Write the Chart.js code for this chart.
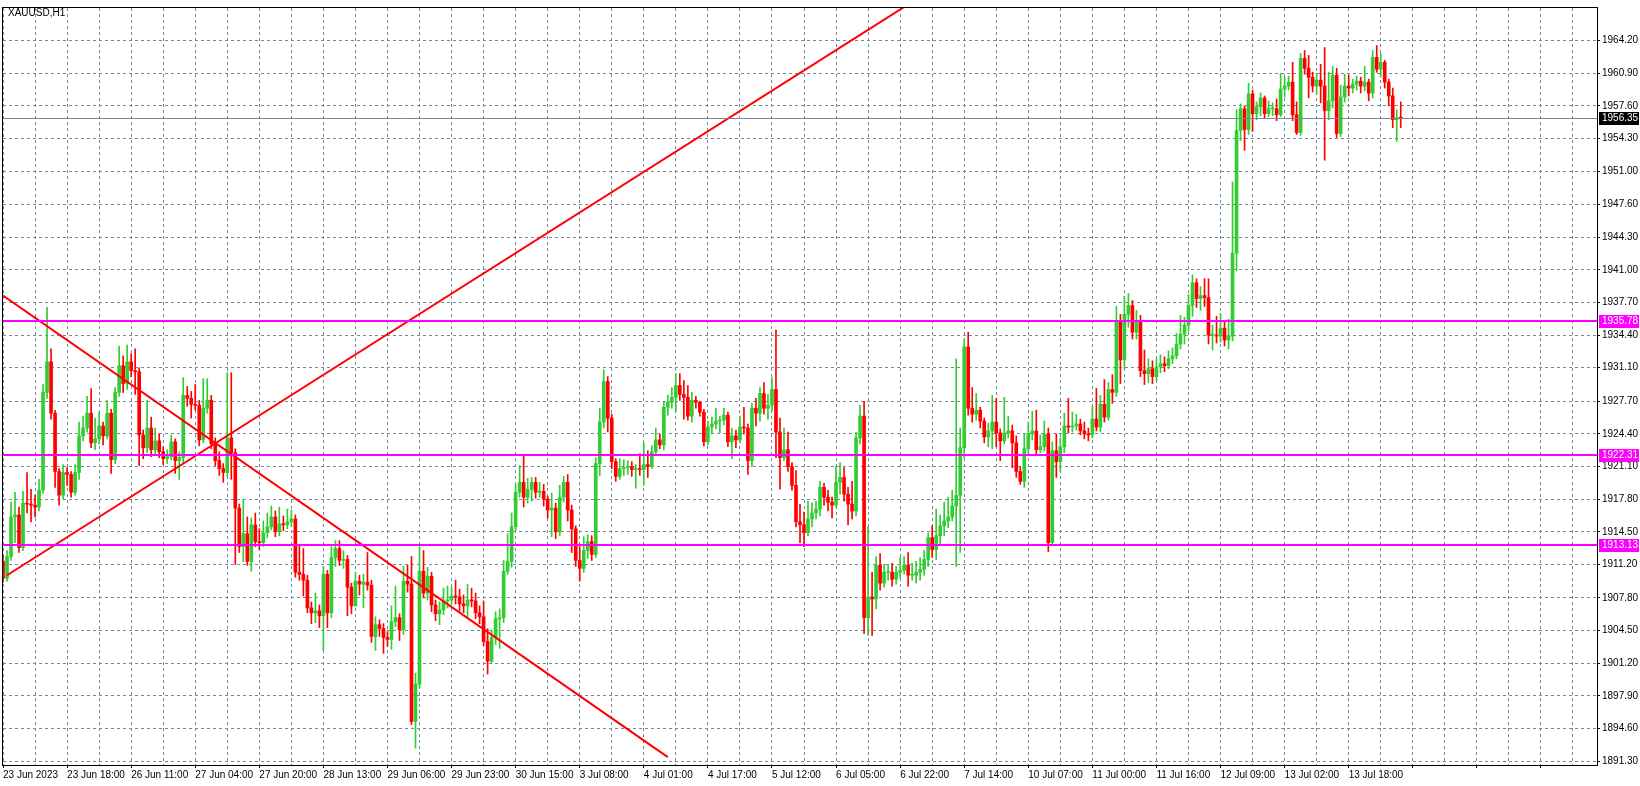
<!DOCTYPE html>
<html>
<head>
<meta charset="utf-8">
<script src="https://cdn.jsdelivr.net/npm/chart.js@4"></script>
<style>
  html, body { margin: 0; padding: 0; background: #fff; }
  canvas { display: block; }
</style>
</head>
<body>
<canvas id="myChart" width="1640" height="786"></canvas>
<script>
// XAUUSD H1 candles
const firstOpen = 1911.5;

const closes = [
  1909.8, 1912.0, 1916.0, 1916.2, 1912.9, 1917.4, 1917.3, 1917.2, 1917.0, 1918.7,
  1928.6, 1931.7, 1926.5, 1920.6, 1918.2, 1920.5, 1920.3, 1918.5, 1920.5, 1924.2,
  1925.0, 1926.5, 1923.5, 1923.9, 1925.2, 1924.2, 1926.5, 1921.8, 1928.6, 1931.3,
  1929.5, 1931.7, 1930.8, 1930.7, 1924.3, 1923.0, 1925.0, 1922.8, 1923.7, 1922.6,
  1921.9, 1922.1, 1923.6, 1921.7, 1922.0, 1928.3, 1928.0, 1927.4, 1927.3, 1923.8,
  1927.0, 1927.8, 1923.4, 1921.7, 1920.9, 1920.5, 1924.0, 1922.5, 1916.9, 1913.0,
  1914.3, 1911.5, 1915.2, 1913.5, 1913.4, 1914.4, 1915.0, 1916.0, 1914.5, 1915.3,
  1915.2, 1915.5, 1915.8, 1910.4, 1910.2, 1909.6, 1906.8, 1906.3, 1906.5, 1906.0,
  1910.2, 1906.3, 1911.9, 1912.8, 1911.6, 1911.7, 1908.9, 1907.0, 1909.5, 1909.2,
  1909.4, 1909.1, 1903.9, 1905.1, 1904.7, 1903.8, 1903.6, 1905.4, 1905.8, 1904.6,
  1909.5, 1909.2, 1895.3, 1899.1, 1910.5, 1908.3, 1910.0, 1907.1, 1906.2, 1906.6,
  1907.5, 1907.6, 1908.0, 1907.9, 1907.2, 1907.0, 1907.6, 1907.5, 1906.3, 1905.9,
  1903.4, 1901.4, 1903.8, 1905.7, 1905.8, 1910.5, 1911.5, 1915.0, 1918.5, 1919.5,
  1918.0, 1918.8, 1919.5, 1918.5, 1918.6, 1917.8, 1916.7, 1916.9, 1914.5, 1918.0,
  1919.5, 1916.7, 1914.8, 1911.6, 1910.8, 1912.6, 1913.5, 1912.2, 1921.4, 1925.6,
  1929.7, 1926.0, 1921.6, 1920.1, 1920.9, 1921.0, 1921.1, 1920.8, 1920.9, 1920.8,
  1921.3, 1921.1, 1922.6, 1923.8, 1923.3, 1927.1, 1927.6, 1928.1, 1929.3, 1928.4,
  1928.1, 1926.2, 1927.8, 1927.6, 1926.6, 1923.6, 1925.1, 1925.4, 1925.7, 1925.8,
  1926.3, 1923.6, 1924.2, 1923.8, 1925.1, 1925.0, 1921.7, 1927.0, 1926.5, 1928.5,
  1927.0, 1927.3, 1928.9, 1924.6, 1922.0, 1922.8, 1921.1, 1919.2, 1915.5, 1915.2,
  1914.4, 1915.8, 1916.4, 1916.8, 1919.0, 1918.0, 1917.5, 1917.2, 1919.5, 1920.0,
  1918.3, 1917.3, 1916.6, 1924.0, 1926.2, 1905.8, 1907.9, 1907.7, 1911.1, 1909.3,
  1910.4, 1910.4, 1909.7, 1910.4, 1910.6, 1911.1, 1910.1, 1910.1, 1910.4, 1910.7,
  1911.7, 1913.9, 1912.7, 1914.1, 1915.1, 1915.6, 1916.0, 1917.1, 1918.2, 1923.0,
  1933.2, 1927.0, 1926.4, 1926.8, 1925.7, 1924.1, 1924.7, 1925.6, 1924.5, 1923.7,
  1924.5, 1924.7, 1923.5, 1920.6, 1919.6, 1922.9, 1924.4, 1924.7, 1922.8, 1923.1,
  1924.4, 1913.4, 1922.7, 1921.6, 1923.1, 1925.2, 1925.1, 1925.2, 1925.4, 1924.7,
  1924.4, 1924.3, 1925.9, 1925.1, 1927.4, 1926.1, 1928.9, 1928.6, 1935.7, 1931.9,
  1936.5, 1937.4, 1934.7, 1935.8, 1930.8, 1930.5, 1931.0, 1930.2, 1931.2, 1931.5,
  1931.3, 1932.0, 1932.3, 1933.5, 1934.5, 1935.4, 1937.4, 1939.7, 1938.1, 1938.4,
  1938.2, 1934.4, 1934.4, 1934.3, 1935.1, 1933.9, 1934.3, 1942.7, 1955.1, 1957.3,
  1955.2, 1958.8, 1956.8, 1957.5, 1958.4, 1956.8, 1957.3, 1957.3, 1956.7, 1959.3,
  1959.6, 1960.0, 1956.7, 1954.9, 1962.4, 1961.4, 1960.5, 1959.6, 1960.2, 1959.6,
  1957.1, 1958.1, 1960.7, 1954.8, 1958.5, 1959.6, 1959.4, 1959.8, 1960.1, 1959.6,
  1960.0, 1958.9, 1962.5, 1961.3, 1962.0, 1960.0, 1958.6, 1956.2, 1956.4, 1956.35
];

const highs = [
  1912.2, 1912.6, 1917.5, 1918.5, 1917.0, 1918.6, 1920.5, 1918.8, 1918.2, 1919.8,
  1929.4, 1937.2, 1933.0, 1926.8, 1920.9, 1921.3, 1921.0, 1920.6, 1921.3, 1925.6,
  1926.2, 1928.2, 1929.0, 1926.0, 1926.6, 1925.6, 1927.8, 1926.9, 1929.1, 1933.3,
  1932.3, 1933.4, 1932.5, 1933.0, 1931.1, 1924.8, 1927.8, 1926.1, 1925.0, 1924.4,
  1923.1, 1922.8, 1924.3, 1923.9, 1922.6, 1930.1, 1929.2, 1928.7, 1929.4, 1927.8,
  1930.0, 1930.0, 1928.3, 1924.0, 1922.6, 1921.4, 1930.6, 1930.6, 1922.9, 1917.3,
  1917.8, 1916.0, 1915.9, 1916.4, 1914.8, 1915.6, 1916.4, 1917.1, 1916.6, 1917.0,
  1916.1, 1916.8, 1916.7, 1916.2, 1913.2, 1912.8, 1910.1, 1907.4, 1908.3, 1907.1,
  1911.0, 1910.6, 1913.0, 1913.6, 1913.6, 1912.6, 1912.1, 1909.3, 1910.4, 1910.1,
  1910.2, 1912.4, 1909.6, 1905.9, 1905.6, 1905.2, 1904.4, 1907.0, 1909.0, 1906.2,
  1911.0, 1911.1, 1912.0, 1900.2, 1913.0, 1912.6, 1910.9, 1910.4, 1907.6, 1907.4,
  1908.8, 1909.0, 1908.9, 1909.6, 1908.7, 1908.1, 1909.2, 1908.8, 1908.3, 1907.0,
  1907.5, 1904.7, 1904.5, 1906.4, 1906.7, 1911.6, 1914.3, 1916.4, 1919.3, 1921.2,
  1922.3, 1919.9, 1920.0, 1920.0, 1919.5, 1919.3, 1918.1, 1918.4, 1917.4, 1919.2,
  1920.1, 1920.3, 1917.2, 1915.1, 1913.0, 1914.0, 1914.2, 1914.1, 1922.0, 1927.0,
  1930.9, 1930.2, 1926.4, 1921.9, 1921.9, 1921.8, 1921.7, 1921.6, 1921.3, 1922.4,
  1923.5, 1922.7, 1923.2, 1925.0, 1924.4, 1927.6, 1928.3, 1929.1, 1930.5, 1930.5,
  1929.8, 1929.3, 1928.6, 1928.2, 1927.7, 1926.9, 1925.7, 1926.1, 1927.0, 1926.2,
  1927.0, 1926.6, 1925.0, 1924.8, 1926.2, 1927.1, 1925.4, 1927.5, 1928.0, 1929.1,
  1929.6, 1928.4, 1930.1, 1934.9, 1926.0, 1925.0, 1924.6, 1921.5, 1920.7, 1917.3,
  1916.5, 1917.6, 1917.4, 1917.6, 1919.6, 1919.4, 1918.7, 1918.0, 1921.1, 1921.5,
  1921.0, 1919.0, 1919.6, 1924.6, 1927.3, 1927.7, 1915.0, 1910.4, 1912.0, 1912.3,
  1911.2, 1911.2, 1911.3, 1911.0, 1911.9, 1912.0, 1912.4, 1911.3, 1911.5, 1911.9,
  1912.6, 1914.4, 1915.1, 1916.8, 1916.2, 1917.5, 1918.0, 1918.7, 1932.0, 1925.0,
  1934.0, 1934.7, 1929.1, 1928.5, 1927.1, 1926.0, 1925.5, 1928.3, 1928.0, 1924.9,
  1928.1, 1926.2, 1925.3, 1924.2, 1921.1, 1924.4, 1925.6, 1926.7, 1926.8, 1924.3,
  1925.7, 1925.0, 1923.6, 1924.4, 1924.0, 1926.5, 1928.0, 1926.6, 1926.4, 1925.9,
  1925.6, 1925.0, 1927.2, 1929.0, 1928.3, 1929.9, 1929.6, 1930.4, 1937.3, 1936.5,
  1938.3, 1938.6, 1937.9, 1936.9, 1936.4, 1932.9, 1932.0, 1931.8, 1932.0, 1932.4,
  1932.2, 1932.8, 1933.1, 1934.6, 1936.4, 1936.2, 1938.5, 1940.5, 1940.1, 1939.3,
  1940.1, 1940.1, 1935.4, 1936.3, 1936.6, 1935.9, 1936.0, 1949.9, 1957.2, 1957.8,
  1957.6, 1959.9, 1959.2, 1958.0, 1958.9, 1958.6, 1958.1, 1957.9, 1958.3, 1960.9,
  1960.5, 1960.6, 1962.0, 1958.0, 1962.9, 1963.2, 1962.7, 1961.0, 1960.9, 1961.8,
  1963.5, 1961.0, 1961.6, 1961.4, 1959.7, 1960.8, 1960.7, 1960.3, 1960.6, 1960.5,
  1961.6, 1960.3, 1963.2, 1963.7, 1962.9, 1962.2, 1960.3, 1959.4, 1957.2, 1958.0
];

const lows = [
  1909.4, 1909.5, 1911.6, 1913.4, 1912.4, 1912.6, 1916.4, 1915.5, 1916.0, 1916.6,
  1918.4, 1928.0, 1925.9, 1919.0, 1917.2, 1917.8, 1919.2, 1918.0, 1918.2, 1919.8,
  1923.7, 1924.6, 1923.0, 1922.8, 1923.4, 1923.3, 1923.9, 1920.4, 1921.4, 1928.2,
  1928.6, 1928.9, 1930.2, 1928.4, 1921.2, 1921.9, 1922.5, 1922.1, 1922.3, 1922.0,
  1921.3, 1921.4, 1921.8, 1920.4, 1919.8, 1921.5, 1927.2, 1926.0, 1926.8, 1923.2,
  1923.5, 1926.5, 1922.9, 1921.2, 1920.2, 1919.5, 1920.1, 1919.8, 1911.2, 1912.4,
  1911.5, 1911.1, 1910.5, 1913.0, 1912.7, 1913.0, 1913.9, 1914.7, 1914.0, 1914.1,
  1914.6, 1914.8, 1915.0, 1909.9, 1909.6, 1908.0, 1906.3, 1905.2, 1905.3, 1904.8,
  1902.5, 1904.8, 1905.8, 1911.0, 1911.1, 1910.8, 1906.0, 1906.2, 1907.0, 1908.1,
  1906.8, 1908.6, 1903.3, 1902.5, 1903.9, 1902.2, 1902.9, 1902.6, 1904.9, 1903.5,
  1904.1, 1908.4, 1895.0, 1892.6, 1898.7, 1907.8, 1907.6, 1906.4, 1905.5, 1905.1,
  1906.1, 1906.8, 1907.1, 1907.2, 1906.5, 1906.3, 1905.8, 1906.9, 1905.7, 1905.2,
  1903.0, 1900.1, 1901.2, 1903.1, 1902.7, 1905.3, 1910.2, 1910.9, 1914.6, 1918.0,
  1917.0, 1917.4, 1917.6, 1917.9, 1918.0, 1917.1, 1915.9, 1914.0, 1913.8, 1914.1,
  1917.5, 1915.6, 1912.4, 1911.0, 1909.5, 1910.4, 1911.8, 1911.6, 1911.9, 1920.2,
  1925.0, 1924.6, 1920.9, 1919.6, 1919.8, 1920.2, 1920.3, 1920.1, 1918.9, 1920.2,
  1919.2, 1920.0, 1920.9, 1922.2, 1922.9, 1922.8, 1926.3, 1927.0, 1926.6, 1927.8,
  1925.9, 1925.8, 1925.6, 1927.0, 1926.2, 1923.2, 1923.3, 1924.4, 1924.9, 1924.5,
  1925.3, 1923.1, 1921.9, 1923.0, 1923.5, 1924.4, 1920.3, 1921.1, 1925.2, 1925.7,
  1926.4, 1925.9, 1926.7, 1922.0, 1918.8, 1921.7, 1920.6, 1918.7, 1915.0, 1913.4,
  1913.0, 1914.1, 1915.0, 1915.8, 1916.1, 1917.2, 1916.6, 1915.9, 1917.0, 1918.3,
  1917.6, 1915.2, 1915.8, 1916.1, 1923.4, 1904.2, 1904.0, 1904.0, 1906.7, 1908.6,
  1908.9, 1909.6, 1909.0, 1909.2, 1909.8, 1910.2, 1909.0, 1909.6, 1909.3, 1909.6,
  1910.1, 1911.0, 1911.9, 1911.7, 1913.1, 1914.1, 1914.9, 1915.6, 1911.0, 1912.4,
  1922.0, 1926.3, 1925.6, 1925.8, 1925.0, 1923.5, 1923.1, 1922.9, 1923.1, 1921.7,
  1923.4, 1924.0, 1921.0, 1920.0, 1919.3, 1919.0, 1922.2, 1923.8, 1922.2, 1922.5,
  1922.7, 1912.5, 1913.1, 1920.0, 1920.6, 1922.5, 1924.5, 1924.6, 1924.8, 1924.3,
  1923.9, 1923.7, 1924.0, 1924.7, 1924.6, 1925.6, 1925.8, 1927.5, 1928.2, 1929.5,
  1931.0, 1935.2, 1934.0, 1934.0, 1930.2, 1929.4, 1929.6, 1929.5, 1929.8, 1930.6,
  1930.7, 1931.0, 1931.5, 1932.0, 1933.0, 1933.5, 1934.8, 1936.3, 1937.2, 1936.9,
  1937.3, 1933.5, 1932.9, 1933.6, 1933.7, 1933.3, 1933.0, 1933.8, 1940.9, 1954.1,
  1953.1, 1954.7, 1955.0, 1956.2, 1956.6, 1956.3, 1956.5, 1956.6, 1956.1, 1956.5,
  1958.5, 1959.2, 1956.1, 1954.7, 1954.6, 1960.8, 1958.4, 1959.0, 1958.8, 1957.9,
  1952.1, 1956.2, 1957.4, 1954.4, 1954.5, 1958.0, 1958.6, 1958.9, 1959.2, 1958.9,
  1959.1, 1958.1, 1958.4, 1961.0, 1960.5, 1959.4, 1957.6, 1955.4, 1954.0, 1955.4
];

const tickLabels = [
  '23 Jun 2023', '23 Jun 18:00', '26 Jun 11:00', '27 Jun 04:00', '27 Jun 20:00',
  '28 Jun 13:00', '29 Jun 06:00', '29 Jun 23:00', '30 Jun 15:00', '3 Jul 08:00',
  '4 Jul 01:00', '4 Jul 17:00', '5 Jul 12:00', '6 Jul 05:00', '6 Jul 22:00',
  '7 Jul 14:00', '10 Jul 07:00', '11 Jul 00:00', '11 Jul 16:00', '12 Jul 09:00',
  '13 Jul 02:00', '13 Jul 18:00'
];

const priceTicks = [
  1964.20, 1960.90, 1957.60, 1954.30, 1951.00, 1947.60, 1944.30, 1941.00,
  1937.70, 1934.40, 1931.10, 1927.70, 1924.40, 1921.10, 1917.80, 1914.50,
  1911.20, 1907.80, 1904.50, 1901.20, 1897.90, 1894.60, 1891.30
];

const levels = [1935.78, 1922.31, 1913.13];
const lastPrice = 1956.35;

// trend lines as [barIndex, price] anchors
const trendDown = [[0, 1938.4], [166, 1891.7]];
const trendUp = [[1, 1910.1], [225, 1967.6]];

const SLOTS = 399;
const BAR_TICK = 16;
const GRID_STEP = 8;

const labels = [];
for (let i = 0; i < SLOTS; i++) {
    labels.push(i % BAR_TICK === 0 && tickLabels[i / BAR_TICK] ? tickLabels[i / BAR_TICK] : '');
}

const opens = closes.map((c, i) => i === 0 ? firstOpen : closes[i - 1]);
const colors = closes.map((c, i) => c >= opens[i] ? '#32CD32' : '#FF0000');

// sparse series with only the two anchors set, joined with spanGaps
const anchorSeries = pts => {
    const arr = new Array(SLOTS).fill(null);
    pts.forEach(p => { arr[p[0]] = p[1]; });
    return arr;
};

const FONT = { family: 'Liberation Sans', size: 10 };
const GRID = '#778899';

const overlay = {
    id: 'overlay',
    afterDatasetsDraw(chart) {
        const ctx = chart.ctx;
        const y = chart.scales.y;
        const area = chart.chartArea;
        ctx.save();
        ctx.font = '10px "Liberation Sans"';
        ctx.textBaseline = 'middle';
        // current price line
        const py = Math.round(y.getPixelForValue(lastPrice)) + 0.5;
        ctx.strokeStyle = GRID;
        ctx.lineWidth = 1;
        ctx.beginPath(); ctx.moveTo(area.left, py); ctx.lineTo(area.right, py); ctx.stroke();
        // support / resistance levels
        ctx.strokeStyle = '#FF00FF';
        ctx.lineWidth = 2;
        levels.forEach(v => {
            const ly = Math.round(y.getPixelForValue(v));
            ctx.beginPath(); ctx.moveTo(area.left, ly); ctx.lineTo(area.right, ly); ctx.stroke();
        });
        // axis boxes
        const box = (v, bg) => {
            const by = Math.round(y.getPixelForValue(v));
            ctx.fillStyle = bg;
            ctx.fillRect(area.right + 2, by - 6, 1640 - area.right - 3, 13);
            ctx.fillStyle = '#fff';
            ctx.textAlign = 'left';
            ctx.fillText(v.toFixed(2), area.right + 5, by + 0.5);
        };
        levels.forEach(v => box(v, '#FF00FF'));
        box(lastPrice, '#000');
        // frame
        ctx.strokeStyle = '#000';
        ctx.lineWidth = 1;
        ctx.strokeRect(area.left - 0.5, area.top - 0.5, area.right - area.left + 1, area.bottom - area.top + 1);
        // symbol caption
        ctx.fillStyle = '#000';
        ctx.textAlign = 'left';
        ctx.fillText('XAUUSD,H1', 8, 13);
        ctx.restore();
    }
};

new Chart(document.getElementById('myChart'), {
    type: 'bar',
    data: {
        labels: labels,
        datasets: [
            {
                label: 'wick',
                data: closes.map((c, i) => [lows[i], highs[i]]),
                backgroundColor: colors,
                barThickness: 1,
                grouped: false,
                order: 3
            },
            {
                label: 'body',
                data: closes.map((c, i) => [opens[i], c]),
                backgroundColor: colors,
                barThickness: 3,
                minBarLength: 1,
                grouped: false,
                order: 2
            },
            {
                type: 'line',
                label: 'down',
                data: anchorSeries(trendDown),
                spanGaps: true,
                borderColor: '#FF0000',
                borderWidth: 2,
                pointRadius: 0,
                order: 1
            },
            {
                type: 'line',
                label: 'up',
                data: anchorSeries(trendUp),
                spanGaps: true,
                borderColor: '#FF0000',
                borderWidth: 2,
                pointRadius: 0,
                order: 1
            }
        ]
    },
    options: {
        responsive: false,
        animation: false,
        devicePixelRatio: 1,
        layout: { padding: { left: 3, top: 3, right: 0, bottom: 0 } },
        plugins: { legend: { display: false }, tooltip: { enabled: false } },
        scales: {
            x: {
                offset: false,
                min: 0,
                max: SLOTS - 1,
                grid: {
                    offset: false,
                    drawTicks: true,
                    tickLength: 3,
                    color: ctx => (ctx.index % GRID_STEP === 0 ? GRID : 'rgba(0,0,0,0)'),
                    tickColor: ctx => (ctx.index % BAR_TICK === 0 ? '#000' : 'rgba(0,0,0,0)')
                },
                border: { display: true, color: '#000', dash: [3, 3] },
                ticks: {
                    autoSkip: false,
                    maxRotation: 0,
                    align: 'start',
                    padding: 1,
                    color: '#000',
                    font: FONT,
                    callback: (v, i) => labels[i]
                },
                afterFit: s => { s.height = 21; }
            },
            y: {
                position: 'right',
                min: 1890.9,
                max: 1967.5,
                afterBuildTicks: s => { s.ticks = priceTicks.map(v => ({ value: v })); },
                grid: { color: GRID, tickColor: '#000', tickLength: 3 },
                border: { display: true, color: '#000', dash: [3, 3] },
                ticks: {
                    padding: 2,
                    color: '#000',
                    font: FONT,
                    callback: v => Number(v).toFixed(2)
                },
                afterFit: s => { s.width = 43; }
            }
        }
    },
    plugins: [overlay]
});
</script>
</body>
</html>
